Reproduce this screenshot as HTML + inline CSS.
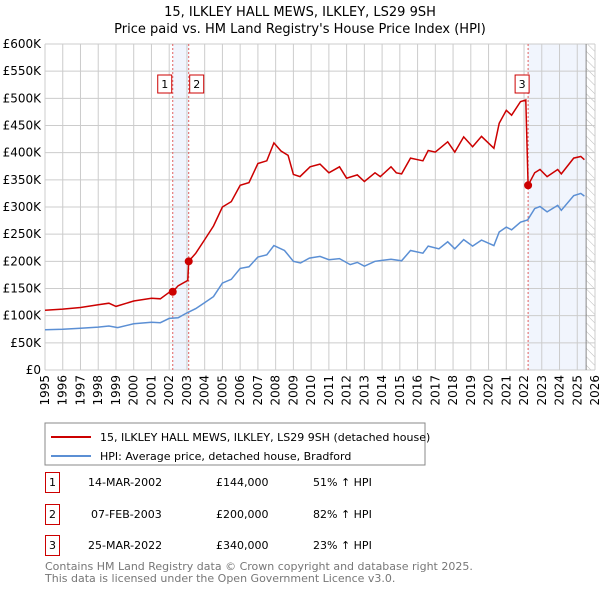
<!DOCTYPE html>
<html><head><meta charset="utf-8"><style>
body{margin:0;background:#fff;font-family:"Liberation Sans","DejaVu Sans",sans-serif;}
svg text{font-family:"DejaVu Sans","Liberation Sans",sans-serif;}
</style></head><body>
<svg id="chart" width="600" height="590" viewBox="0 0 600 590" xmlns="http://www.w3.org/2000/svg">
<defs><pattern id="hatch" width="6" height="6" patternUnits="userSpaceOnUse" patternTransform="rotate(-45)"><line x1="0" y1="0" x2="0" y2="6" stroke="#bbb" stroke-width="1"/></pattern></defs>
<text x="300" y="16" text-anchor="middle" font-size="13">15, ILKLEY HALL MEWS, ILKLEY, LS29 9SH</text>
<text x="300" y="33" text-anchor="middle" font-size="13">Price paid vs. HM Land Registry's House Price Index (HPI)</text>
<g id="plot"></g>
<g>
<rect x="45" y="423" width="380" height="42" fill="#fff" stroke="#888"/>
<line x1="51" y1="437" x2="91" y2="437" stroke="#cc0000" stroke-width="2"/>
<text x="100" y="441" font-size="11">15, ILKLEY HALL MEWS, ILKLEY, LS29 9SH (detached house)</text>
<line x1="51" y1="456" x2="91" y2="456" stroke="#5b8fd4" stroke-width="2"/>
<text x="100" y="460" font-size="11">HPI: Average price, detached house, Bradford</text>
</g>
<g font-size="11">
<rect x="45.5" y="472.5" width="14" height="20" fill="#fff" stroke="#cc0000"/><text x="52.5" y="486" text-anchor="middle">1</text>
<text x="88" y="486">14-MAR-2002</text><text x="216" y="486">£144,000</text><text x="313" y="486">51% ↑ HPI</text>
<rect x="45.5" y="504.5" width="14" height="20" fill="#fff" stroke="#cc0000"/><text x="52.5" y="518" text-anchor="middle">2</text>
<text x="91" y="518">07-FEB-2003</text><text x="216" y="518">£200,000</text><text x="313" y="518">82% ↑ HPI</text>
<rect x="45.5" y="535.5" width="14" height="20" fill="#fff" stroke="#cc0000"/><text x="52.5" y="549" text-anchor="middle">3</text>
<text x="88" y="549">25-MAR-2022</text><text x="216" y="549">£340,000</text><text x="313" y="549">23% ↑ HPI</text>
</g>
<text x="45" y="570" font-size="11" fill="#777">Contains HM Land Registry data © Crown copyright and database right 2025.</text>
<text x="45" y="582" font-size="11" fill="#777">This data is licensed under the Open Government Licence v3.0.</text>
</svg>
<script>
const yTicks=[0,50,100,150,200,250,300,350,400,450,500,550,600];
const yTickLabels=["£0","£50K","£100K","£150K","£200K","£250K","£300K","£350K","£400K","£450K","£500K","£550K","£600K"];
const xYears=[1995,1996,1997,1998,1999,2000,2001,2002,2003,2004,2005,2006,2007,2008,2009,2010,2011,2012,2013,2014,2015,2016,2017,2018,2019,2020,2021,2022,2023,2024,2025,2026];
const priceT=[1995,1996,1997,1998,1998.6,1999,2000,2001,2001.5,2002,2002.2,2002.5,2003.05,2003.1,2003.5,2004,2004.5,2005,2005.5,2006,2006.5,2007,2007.5,2007.9,2008.3,2008.7,2009,2009.37,2009.94,2010.5,2011,2011.6,2012,2012.6,2013,2013.6,2013.9,2014.5,2014.8,2015.1,2015.6,2016.3,2016.6,2017,2017.7,2018.1,2018.6,2019.1,2019.6,2020.3,2020.6,2021,2021.3,2021.8,2022.1,2022.23,2022.6,2022.9,2023.3,2023.9,2024.1,2024.8,2025.2,2025.4];
const priceV=[110,112,115,120,123,117,127,132,131,143,144,155,165,200,215,240,265,300,310,340,345,380,385,418,403,395,360,356,374,379,363,374,353,359,347,363,356,374,363,361,390,385,404,401,420,401,429,411,430,408,454,478,469,494,497,340,363,369,356,369,361,390,393,387];
const hpiT=[1995,1996,1997,1998,1998.6,1999.1,2000,2001,2001.5,2002,2002.5,2003,2003.5,2004,2004.5,2005,2005.5,2006,2006.5,2007,2007.5,2007.9,2008.5,2009,2009.4,2009.9,2010.5,2011,2011.6,2012.2,2012.6,2013,2013.6,2014.5,2015.1,2015.6,2016.3,2016.6,2017.2,2017.7,2018.1,2018.6,2019.1,2019.6,2020.3,2020.6,2021,2021.3,2021.8,2022.2,2022.6,2022.9,2023.3,2023.9,2024.1,2024.8,2025.2,2025.4];
const hpiV=[74,75,77,79,81,78,85,88,87,95,96,105,113,124,135,160,167,187,190,208,212,229,220,200,197,206,209,203,205,194,198,191,200,204,201,220,215,228,223,236,223,240,228,239,229,254,263,258,272,276,297,301,291,303,294,321,325,320];
const saleT=[2002.2,2003.1,2022.23];
const saleV=[144,200,340];
const saleLabels=["1","2","3"];
const dataEnd=2025.5;

const L=45,R=595,T=44,B=370;
const xs=t=>L+(t-1995)/(2026-1995)*(R-L);
const ys=v=>B-v/600*(B-T);
const NS="http://www.w3.org/2000/svg";
const g=document.getElementById('plot');
function mk(tag,attrs,parent){const e=document.createElementNS(NS,tag);for(const k in attrs)e.setAttribute(k,attrs[k]);(parent||g).appendChild(e);return e;}

let r=mk('rect',{x:xs(saleT[0]),y:T,width:xs(saleT[1])-xs(saleT[0]),height:B-T,fill:'#f1f5fd'});


r=mk('rect',{x:xs(saleT[2]),y:T,width:xs(dataEnd)-xs(saleT[2]),height:B-T,fill:'#f1f5fd'});


r=mk('rect',{x:xs(dataEnd),y:T,width:R-xs(dataEnd),height:B-T,fill:'url(#hatch)'});



yTicks.forEach((v,i)=>{
  const l=mk('line',{x1:L,x2:R,y1:ys(v),y2:ys(v),stroke:'#ccc','stroke-width':1});
  
  
  const t=mk('text',{x:L-4,y:ys(v)+4,'text-anchor':'end','font-size':12});
  
  
  t.textContent=yTickLabels[i];
});
xYears.forEach(y=>{
  const l=mk('line',{x1:xs(y),x2:xs(y),y1:T,y2:B,stroke:'#ccc','stroke-width':1});
  
  
  const t=mk('text',{x:0,y:0,'text-anchor':'end','font-size':12,transform:`translate(${xs(y)+4},${B+5}) rotate(-90)`});
  
  
  t.textContent=y;
});
let dl=mk('line',{x1:xs(dataEnd),x2:xs(dataEnd),y1:T,y2:B,stroke:'#888','stroke-width':1});



saleT.forEach((t,i)=>{
  const l=mk('line',{x1:xs(t),x2:xs(t),y1:T,y2:B,stroke:'#e06060','stroke-width':1,'stroke-dasharray':'2,2'});
  
  
});

const path=(T_,V_)=>T_.map((t,i)=>(i?'L':'M')+xs(t).toFixed(1)+','+ys(V_[i]).toFixed(1)).join(' ');
let hp=mk('path',{d:path(hpiT,hpiV),fill:'none',stroke:'#5b8fd4','stroke-width':1.5});


let pp=mk('path',{d:path(priceT,priceV),fill:'none',stroke:'#cc0000','stroke-width':1.5});



saleT.forEach((t,i)=>{
  const c=mk('circle',{cx:xs(t),cy:ys(saleV[i]),r:4,fill:'#cc0000'});
  
  
  const off=i===0?-8:(i===1?8:-6);
  const bx=mk('rect',{x:xs(t)+off-7,y:75,width:14,height:18,fill:'#fff',stroke:'#cc0000'});
  
  
  const tx=mk('text',{x:xs(t)+off,y:88,'text-anchor':'middle','font-size':11});
  
  
  tx.textContent=saleLabels[i];
});
</script>
</body></html>
